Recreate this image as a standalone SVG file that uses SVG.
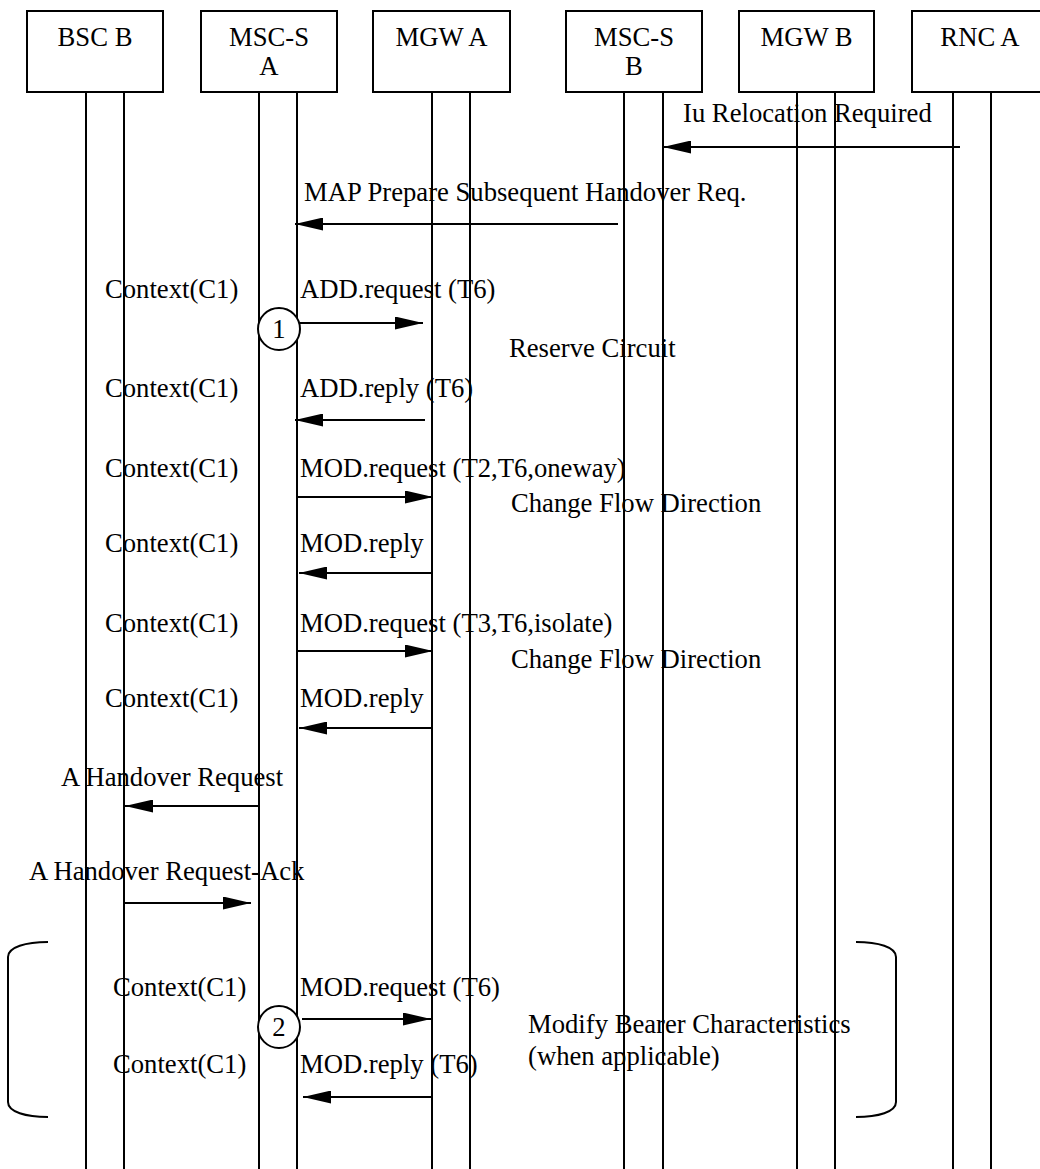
<svg xmlns="http://www.w3.org/2000/svg" width="1040" height="1169" viewBox="0 0 1040 1169">
<style>
text{font-family:"Liberation Serif","Times New Roman",serif;font-size:26.67px;fill:#000}
.box{fill:#fff;stroke:#000;stroke-width:2}
.life{stroke:#000;stroke-width:2;fill:none}
.msg{stroke:#000;stroke-width:2;fill:none;marker-end:url(#ah)}
.brk{stroke:#000;stroke-width:2;fill:none}
.circ{fill:#fff;stroke:#000;stroke-width:2}
.c{text-anchor:middle}
</style>
<defs>
<marker id="ah" markerUnits="userSpaceOnUse" markerWidth="28" markerHeight="13" refX="28" refY="6.5" orient="auto">
<path d="M0,0 L28,6.5 L0,13 z" fill="#000"/>
</marker>
</defs>
<rect width="1040" height="1169" fill="#fff"/>
<g id="lifelines">
<line class="life" x1="86" y1="92" x2="86" y2="1169"/>
<line class="life" x1="124" y1="92" x2="124" y2="1169"/>
<line class="life" x1="259" y1="92" x2="259" y2="1169"/>
<line class="life" x1="297" y1="92" x2="297" y2="1169"/>
<line class="life" x1="432" y1="92" x2="432" y2="1169"/>
<line class="life" x1="470" y1="92" x2="470" y2="1169"/>
<line class="life" x1="624" y1="92" x2="624" y2="1169"/>
<line class="life" x1="663" y1="92" x2="663" y2="1169"/>
<line class="life" x1="797" y1="92" x2="797" y2="1169"/>
<line class="life" x1="835" y1="92" x2="835" y2="1169"/>
<line class="life" x1="953" y1="92" x2="953" y2="1169"/>
<line class="life" x1="991" y1="92" x2="991" y2="1169"/>
</g>
<g id="node-bscb"><rect class="box" x="27" y="11" width="136" height="81"/><text class="c" x="95" y="46">BSC B</text></g>
<g id="node-mscsa"><rect class="box" x="201" y="11" width="136" height="81"/><text class="c" x="269" y="46">MSC-S</text><text class="c" x="269" y="75">A</text></g>
<g id="node-mgwa"><rect class="box" x="373" y="11" width="137" height="81"/><text class="c" x="441.5" y="46">MGW A</text></g>
<g id="node-mscsb"><rect class="box" x="566" y="11" width="136" height="81"/><text class="c" x="634" y="46">MSC-S</text><text class="c" x="634" y="75">B</text></g>
<g id="node-mgwb"><rect class="box" x="739" y="11" width="135" height="81"/><text class="c" x="806.5" y="46">MGW B</text></g>
<g id="node-rnca"><rect class="box" x="912" y="11" width="136" height="81"/><text class="c" x="980" y="46">RNC A</text></g>
<g id="connectors">
<line class="msg" x1="960" y1="147" x2="663" y2="147"/>
<line class="msg" x1="618" y1="224" x2="295" y2="224"/>
<line class="msg" x1="300" y1="323" x2="423" y2="323"/>
<line class="msg" x1="425" y1="420" x2="295" y2="420"/>
<line class="msg" x1="298" y1="497" x2="433" y2="497"/>
<line class="msg" x1="433" y1="573" x2="299" y2="573"/>
<line class="msg" x1="298" y1="651" x2="433" y2="651"/>
<line class="msg" x1="433" y1="728" x2="299" y2="728"/>
<line class="msg" x1="258" y1="806" x2="125" y2="806"/>
<line class="msg" x1="124" y1="903" x2="251" y2="903"/>
<line class="msg" x1="302" y1="1019" x2="431" y2="1019"/>
<line class="msg" x1="432" y1="1097" x2="303" y2="1097"/>
</g>
<g id="brackets">
<path class="brk" d="M48,942 C26,942 8,947 8,957 L8,1102 C8,1112 26,1117 48,1117"/>
<path class="brk" d="M856,942 C878,942 896,947 896,957 L896,1102 C896,1112 878,1117 856,1117"/>
</g>
<g id="marker-1"><circle class="circ" cx="279" cy="329" r="21"/><text class="c" x="279" y="338">1</text></g>
<g id="marker-2"><circle class="circ" cx="279" cy="1027" r="21"/><text class="c" x="279" y="1036">2</text></g>
<g id="labels">
<text x="683" y="122">Iu Relocation Required</text>
<text x="304" y="201">MAP Prepare Subsequent Handover Req.</text>
<text x="105" y="298">Context(C1)</text>
<text x="300" y="298">ADD.request (T6)</text>
<text x="509" y="357">Reserve Circuit</text>
<text x="105" y="397">Context(C1)</text>
<text x="300" y="397">ADD.reply (T6)</text>
<text x="105" y="477">Context(C1)</text>
<text x="300" y="477">MOD.request (T2,T6,oneway)</text>
<text x="511" y="512">Change Flow Direction</text>
<text x="105" y="552">Context(C1)</text>
<text x="300" y="552">MOD.reply</text>
<text x="105" y="632">Context(C1)</text>
<text x="300" y="632">MOD.request (T3,T6,isolate)</text>
<text x="511" y="668">Change Flow Direction</text>
<text x="105" y="707">Context(C1)</text>
<text x="300" y="707">MOD.reply</text>
<text x="61" y="786">A Handover Request</text>
<text x="29" y="880">A Handover Request-Ack</text>
<text x="113" y="996">Context(C1)</text>
<text x="300" y="996">MOD.request (T6)</text>
<text x="528" y="1033">Modify Bearer Characteristics</text>
<text x="528" y="1065">(when applicable)</text>
<text x="113" y="1073">Context(C1)</text>
<text x="300" y="1073">MOD.reply (T6)</text>
</g>
</svg>
